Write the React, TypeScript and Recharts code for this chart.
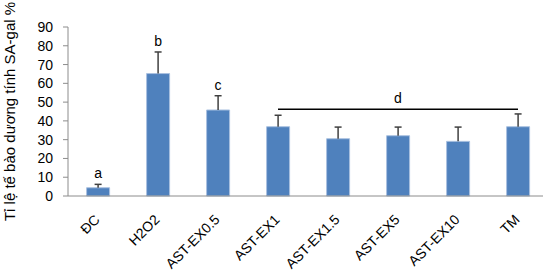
import { BarChart, Bar, XAxis, YAxis, ReferenceLine, LabelList } from "recharts";

const groups = ["ĐC", "H2O2", "AST-EX0.5", "AST-EX1", "AST-EX1.5", "AST-EX5", "AST-EX10", "TM"];
const means = [4.4, 65.2, 45.8, 36.9, 30.5, 32.1, 29.1, 36.9];
const errors = [1.8, 11.5, 7.6, 6.1, 6.2, 4.6, 7.6, 6.8];
const letters = ["a", "b", "c", "", "", "", "", ""];
const yTicks = [0, 10, 20, 30, 40, 50, 60, 70, 80, 90];
const edgeTicks = [0, 1, 2, 3, 4, 5, 6, 7, 8];
const groupLine = { from: "AST-EX1", to: "TM", y: 46.2, letter: "d" };

const data = groups.map((g, i) => ({ group: g, mean: means[i], err: errors[i], letter: letters[i] }));

const font = "Arial, 'Liberation Sans', sans-serif";

// upper whisker + cap, stacked on the bar so it goes through the y scale
function Whisker(props: any) {
  const { x, y, width, height } = props;
  const cx = x + width / 2;
  return (
    <g>
      <line x1={cx} x2={cx} y1={y + height} y2={y} stroke="#404040" strokeWidth={1.5} />
      <line x1={cx - 3.5} x2={cx + 3.5} y1={y} y2={y} stroke="#404040" strokeWidth={1.5} />
    </g>
  );
}

function SlantTick(props: any) {
  const { x, y, payload } = props;
  return (
    <g transform={`translate(${x - 1},${y + 13})`}>
      <text textAnchor="end" transform="rotate(-45)" fontSize={14} fontFamily={font} fill="#000" dy={5}>
        {payload.value}
      </text>
    </g>
  );
}

export default function App() {
  return (
    <div style={{ position: "fixed", left: 0, top: 0, width: 543, height: 275, overflow: "hidden", background: "#fff" }}>
      <BarChart
        width={560}
        height={275}
        data={data}
        margin={{ top: 27, right: 12, left: 0, bottom: 0 }}
        barCategoryGap="31%"
      >
        <XAxis
          xAxisId="edges"
          type="number"
          domain={[0, 8]}
          ticks={edgeTicks}
          height={0}
          tick={false}
          tickSize={5}
          axisLine={false}
          tickLine={{ stroke: "#8c8c8c" }}
        />
        <XAxis
          dataKey="group"
          height={79}
          interval={0}
          tick={<SlantTick />}
          tickLine={false}
          axisLine={{ stroke: "#8c8c8c" }}
        />
        <YAxis
          width={68}
          domain={[0, 90]}
          ticks={yTicks}
          interval={0}
          tick={{ fontSize: 14, fill: "#000", fontFamily: font }}
          tickSize={5}
          tickMargin={10}
          axisLine={{ stroke: "#8c8c8c" }}
          tickLine={{ stroke: "#8c8c8c" }}
          label={{
            value: "Tỉ lệ tế bào dương tính SA-gal %",
            angle: -90,
            position: "insideLeft",
            offset: 10,
            style: { fontSize: 15, fill: "#000", fontFamily: font, textAnchor: "middle" },
          }}
        />
        <Bar dataKey="mean" stackId="s" fill="#4f81bd" stroke="#a9c1e0" strokeWidth={1} isAnimationActive={false} />
        <Bar dataKey="err" stackId="s" shape={<Whisker />} isAnimationActive={false}>
          <LabelList dataKey="letter" position="top" offset={6} style={{ fontSize: 14, fill: "#000", fontFamily: font }} />
        </Bar>
        <ReferenceLine
          segment={[{ x: groupLine.from, y: groupLine.y }, { x: groupLine.to, y: groupLine.y }]}
          stroke="#000"
          strokeWidth={1.5}
          label={{ value: groupLine.letter, position: "top", offset: 6, style: { fontSize: 14, fill: "#000", fontFamily: font } }}
        />
      </BarChart>
    </div>
  );
}
